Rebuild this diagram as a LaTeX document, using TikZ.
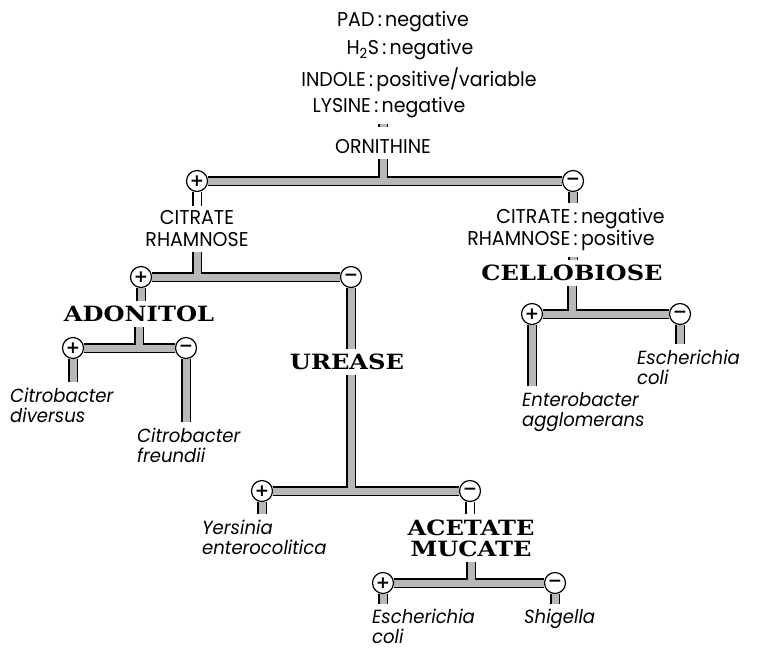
\documentclass[tikz,border=0pt]{standalone}
\usepackage{fontspec}
\setsansfont[FakeStretch=0.95]{Poppins}
\newfontfamily\keyfont[FakeStretch=1.15]{DejaVu Serif}
\newfontfamily\signfont{DejaVu Sans}
\usetikzlibrary{backgrounds}
\tikzset{
    pipeedge/.style={line width=10pt, draw=black, hollow/.style={}},
    pipefill/.style={line width=7pt, draw=black!28, hollow/.style={draw=white}},
    sign/.style={circle, draw, line width=1.2pt, fill=white, minimum size=21pt, inner sep=0pt, font=\signfont\bfseries\fontsize{17}{17}\selectfont},
    test/.style={font=\sffamily\fontsize{20}{22}\selectfont, inner xsep=0pt, inner ysep=5pt, align=center},
    key/.style={font=\keyfont\bfseries\fontsize{21}{21}\selectfont, inner xsep=0pt, inner ysep=5pt, align=center},
    germ/.style={font=\sffamily\itshape\fontsize{19}{20}\selectfont, inner xsep=0pt, inner ysep=1pt, align=left, anchor=north west}
}

\begin{document}
\begin{tikzpicture}[x=1pt,y=-1pt]
    \useasboundingbox (0,0) rectangle (762,649);

    % tests that are already known
    \node[test] (pad) at (403,22) {PAD\,:\,negative};
    \node[test] (hs) at (410,50) {H\textsubscript{2}S\,:\,negative};
    \node[test] (indole) at (419,80) {INDOLE\,:\,positive/variable};
    \node[test] (lysine) at (389,108) {LYSINE\,:\,negative};
    \node[test] (ornithine) at (383,147) {ORNITHINE};
    \node[sign] (ornP) at (197,181) {+};
    \node[sign] (ornM) at (573,181) {−};

    % ornithine negative
    \node[test] (citR) at (566,230) {\begin{tabular}{@{}r@{\,:\,}l@{}}CITRATE&negative\\RHAMNOSE&positive\end{tabular}};
    \node[key] (cello) at (572,273) {CELLOBIOSE};
    \node[sign] (celP) at (532,314) {+};
    \node[sign] (celM) at (680,314) {−};
    \node[germ] (entero) at (522,391) {Enterobacter\\agglomerans};
    \node[germ] (ecoliR) at (637,349) {Escherichia\\coli};

    % ornithine positive
    \node[test] (citL) at (197,229) {CITRATE\\RHAMNOSE};
    \node[sign] (citP) at (141,277) {+};
    \node[sign] (citM) at (351,277) {−};
    \node[key] (adonitol) at (139,314) {ADONITOL};
    \node[sign] (adoP) at (73,348) {+};
    \node[sign] (adoM) at (186,348) {−};
    \node[germ] (cdiv) at (10,387) {Citrobacter\\diversus};
    \node[germ] (cfre) at (137,427) {Citrobacter\\freundii};

    % urease
    \node[key] (urease) at (347,362) {UREASE};
    \node[sign] (urP) at (262,491) {+};
    \node[sign] (urM) at (470,491) {−};
    \node[germ] (yers) at (202,519) {Yersinia\\enterocolitica};
    \node[key] (acetate) at (471,538) {ACETATE\\MUCATE};
    \node[sign] (acP) at (383,583) {+};
    \node[sign] (acM) at (555,583) {−};
    \node[germ] (ecoliB) at (372,608) {Escherichia\\coli};
    \node[germ] (shig) at (524,608) {Shigella};

    % the pipes, drawn twice: edge first, then the stippled inside
    \def\pipes#1{
        \draw[#1, shorten >=8pt] (lysine.south -| ornithine.north) -- (ornithine.north);
        \draw[#1] (ornithine.south) -- (ornithine.south |- ornP);
        \draw[#1] (ornP) -- (ornM);
        \draw[#1, hollow] (ornP) -- (ornP |- citL.north);
        \draw[#1] (ornM) -- (ornM |- citR.north);
        \draw[#1] (citR.south -| ornM) -- (ornM |- cello.north);
        \draw[#1] (cello.south) -- (cello.south |- celP);
        \draw[#1] (celP) -- (celM);
        \draw[#1, shorten >=5pt] (celP) -- (celP |- entero.north);
        \draw[#1, shorten >=5pt] (celM) -- (celM |- ecoliR.north);
        \draw[#1] (citL.south) -- (citL.south |- citP);
        \draw[#1] (citP) -- (citM);
        \draw[#1] (citP) -- (citP |- adonitol.north);
        \draw[#1] (adonitol.south) -- (adonitol.south |- adoP);
        \draw[#1] (adoP) -- (adoM);
        \draw[#1, shorten >=5pt] (adoP) -- (adoP |- cdiv.north);
        \draw[#1, shorten >=5pt] (adoM) -- (adoM |- cfre.north);
        \draw[#1] (citM) -- (citM |- urease.north);
        \draw[#1] (urease.south -| citM) -- (citM |- urP);
        \draw[#1] (urP) -- (urM);
        \draw[#1, shorten >=5pt] (urP) -- (urP |- yers.north);
        \draw[#1, hollow] (urM) -- (urM |- acetate.north);
        \draw[#1] (acetate.south) -- (acetate.south |- acP);
        \draw[#1] (acP) -- (acM);
        \draw[#1, shorten >=4pt] (acP) -- (acP |- ecoliB.north);
        \draw[#1, shorten >=4pt] (acM) -- (acM |- shig.north);
    }
    \begin{scope}[on background layer]
        \pipes{pipeedge}
        \pipes{pipefill}
    \end{scope}
\end{tikzpicture}
\end{document}
